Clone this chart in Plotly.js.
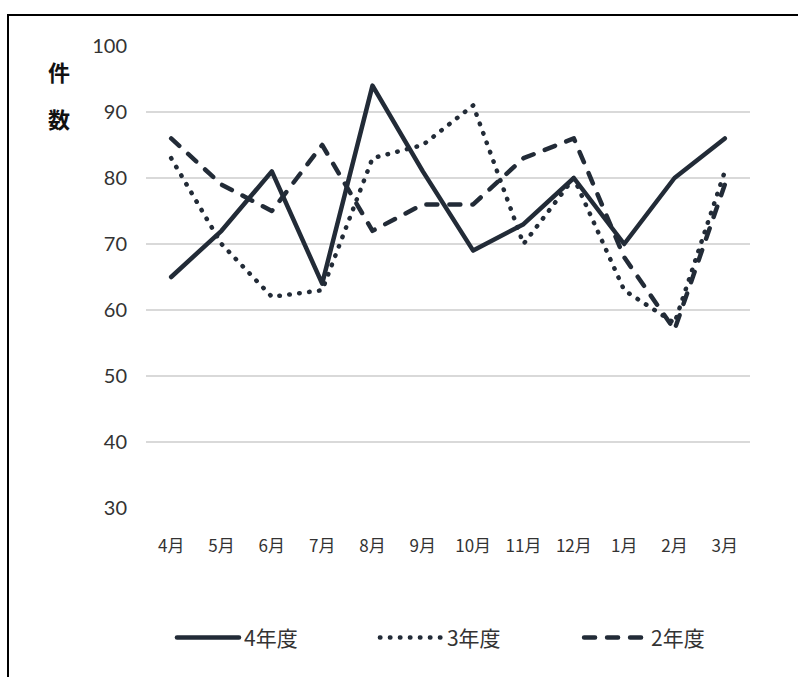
<!DOCTYPE html>
<html>
<head>
<meta charset="utf-8">
<script src="https://cdn.plot.ly/plotly-3.0.1.min.js"></script>
<style>
  html, body { margin: 0; padding: 0; background: #fff; overflow: hidden; }
  #wrap { position: relative; width: 798px; height: 677px; }
  #chart { position: absolute; left: 0; top: 0; width: 798px; height: 677px; }
  #frame { position: absolute; left: 7px; top: 14px; width: 900px; height: 900px;
           border-top: 2px solid #000; border-left: 2px solid #000; pointer-events: none; }
  path.js-line, .legendlines path { stroke-linecap: round; stroke-linejoin: round; }
</style>
</head>
<body>
<div id="wrap">
  <div id="chart"></div>
  <div id="frame"></div>
</div>
<script>
const months = ['4月','5月','6月','7月','8月','9月','10月','11月','12月','1月','2月','3月'];
const seriesNames = ['4年度','3年度','2年度'];
const r4 = [65, 72, 81, 64, 94, 81, 69, 73, 80, 70, 80, 86];
const r3 = [83, 70, 62, 63, 83, 85, 91, 70, 80, 63, 58, 81];
const r2 = [86, 79, 75, 85, 72, 76, 76, 83, 86, 68, 57, 79];
const yTicks = [30, 40, 50, 60, 70, 80, 90, 100];
const yTitleChars = ['件', '数'];

const ink = '#222b37';
const traces = [
  {x: months, y: r4, name: seriesNames[0], type: 'scatter', mode: 'lines', legend: 'legend',
   line: {color: ink, width: 4.5, dash: 'solid'}},
  {x: months, y: r3, name: seriesNames[1], type: 'scatter', mode: 'lines', legend: 'legend2',
   line: {color: ink, width: 4.5, dash: '0.5px,9.5px'}},
  {x: months, y: r2, name: seriesNames[2], type: 'scatter', mode: 'lines', legend: 'legend3',
   line: {color: ink, width: 4.5, dash: '11px,12px'}}
];

const legFont = {family: '"Noto Sans CJK JP", "Noto Sans", sans-serif', size: 21, color: '#333'};
function leg(x) {
  return {orientation: 'h', x: x, xanchor: 'left', y: -0.281, yanchor: 'middle',
          itemwidth: 62, font: legFont, bgcolor: 'rgba(0,0,0,0)', borderwidth: 0};
}

const layout = {
  width: 798, height: 677,
  margin: {l: 146, r: 48, t: 46, b: 169},
  paper_bgcolor: 'rgba(0,0,0,0)',
  plot_bgcolor: '#fff',
  showlegend: true,
  legend: leg(0.043),
  legend2: leg(0.379),
  legend3: leg(0.717),
  xaxis: {
    type: 'category', range: [-0.5, 11.5], showgrid: false, zeroline: false, showline: false,
    ticks: '', ticklabelstandoff: 26,
    tickfont: {family: '"Liberation Sans Narrow", "Noto Sans CJK JP", sans-serif', size: 17, color: '#333'},
    fixedrange: true
  },
  yaxis: {
    range: [30, 100], tickvals: yTicks, showgrid: true, gridcolor: '#d9d9d9', gridwidth: 1.5,
    zeroline: false, showline: false, ticks: '', ticklabelstandoff: 18,
    tickfont: {family: 'Lato, "Open Sans", sans-serif', size: 20, color: '#333'},
    fixedrange: true
  },
  annotations: yTitleChars.map((c, i) => ({
    text: '<b>' + c + '</b>', xref: 'paper', yref: 'paper',
    x: (59 - 146) / 604, y: (508 - [71, 118][i]) / 462,
    xanchor: 'center', yanchor: 'middle', showarrow: false,
    font: {family: '"Noto Sans CJK JP", sans-serif', size: 22, color: '#111'}
  }))
};

Plotly.newPlot('chart', traces, layout, {displayModeBar: false, staticPlot: true});
</script>
</body>
</html>
